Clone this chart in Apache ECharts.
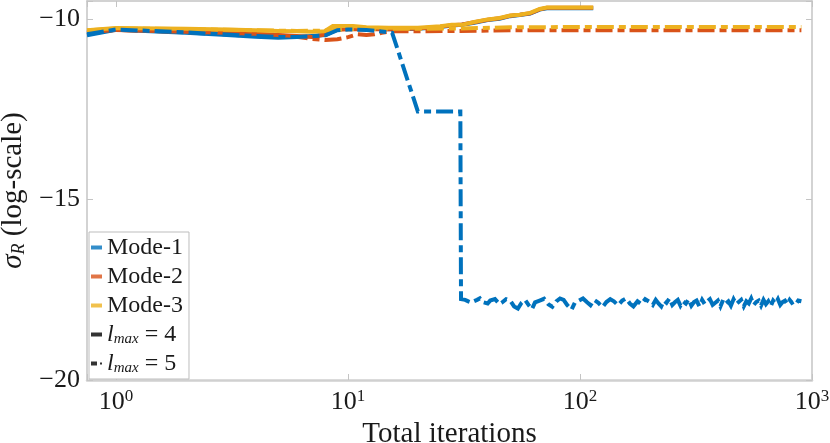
<!DOCTYPE html>
<html>
<head>
<meta charset="utf-8">
<script src="https://cdn.jsdelivr.net/npm/echarts@6/dist/echarts.min.js"></script>
<style>
html,body{margin:0;padding:0;background:#fff;}
#chart{width:830px;height:443px;}
</style>
</head>
<body>
<div id="chart"></div>
<script>
// ---- data ----
const legendNames = ['Mode-1', 'Mode-2', 'Mode-3', 'lmax4', 'lmax5'];
const colors = ['#0072BD', '#D95319', '#EDB120'];

// l_max = 4 (solid)
const mode1L4X = [0.75,1,2,3,4,5,6,7,8,9,10,12,15,20,25,28,31,35,40,45,50,55,61,67,72,114];
const mode1L4Y = [-10.45,-10.30,-10.38,-10.44,-10.49,-10.52,-10.50,-10.47,-10.44,-10.28,-10.27,-10.27,-10.28,-10.27,-10.22,-10.18,-10.16,-10.10,-10.03,-9.99,-9.92,-9.89,-9.85,-9.74,-9.70,-9.70];
const mode2L4X = [0.75,1,2,3,4,5,6,7,8,9,10,12,15,20,25,28,31,35,40,45,50,55,61,67,72,114];
const mode2L4Y = [-10.37,-10.30,-10.35,-10.38,-10.41,-10.44,-10.47,-10.50,-10.42,-10.30,-10.28,-10.28,-10.28,-10.26,-10.21,-10.17,-10.15,-10.09,-10.02,-9.98,-9.91,-9.88,-9.84,-9.73,-9.69,-9.69];
const mode3L4X = [0.75,1,2,3,4,5,6,7,7.9,8.6,10.5,12,15,20,25,28,31,35,40,45,50,55,61,67,72,114];
const mode3L4Y = [-10.31,-10.25,-10.27,-10.29,-10.31,-10.33,-10.34,-10.35,-10.34,-10.19,-10.19,-10.23,-10.24,-10.24,-10.20,-10.16,-10.16,-10.08,-10.01,-9.97,-9.90,-9.88,-9.83,-9.72,-9.68,-9.68];

// l_max = 5 (dash-dot)
// Mode-1: plateau, two drops
const mode1L5HeadX = [0.75,1,2,3,4,5,6,7,8,9,10,12,15.5,20,30.5,30.7];
const mode1L5HeadY = [-10.42,-10.29,-10.37,-10.43,-10.47,-10.50,-10.50,-10.48,-10.45,-10.31,-10.29,-10.30,-10.38,-12.56,-12.56,-17.76];
// Mode-1: noisy floor, iterations 32 .. 191
const mode1L5MidX = [32,33,34,36,37,38,40,41,43,45,46,48,50,52,54,56,58,60,62,64,67,70,73,76,79,82,85,88,92,95,99,
  103,107,111,115,120,125,130,135,140,146,152,158,164,170,177,184,191];
const mode1L5MidY = [-17.78,-17.82,-17.85,-17.78,-17.74,-17.84,-17.88,-17.80,-17.76,-17.90,-17.86,-17.76,
  -17.80,-17.96,-18.02,-17.86,-17.78,-17.92,-18.04,-17.85,-17.80,-17.75,-17.90,-17.97,
  -17.82,-17.74,-17.78,-17.92,-18.05,-17.86,-17.80,-17.74,-17.84,-17.93,-17.78,-17.86,
  -17.98,-17.84,-17.76,-17.82,-17.93,-17.80,-17.74,-17.88,-17.96,-17.82,-17.90,-17.76];
// Mode-1: noisy floor, iterations 200 .. 900
const mode1L5TailX = [200,206,212,218,224,230,236,243,250,257,264,271,278,286,294,302,310,318,
  327,336,345,354,363,373,383,393,403,414,425,436,447,459,471,483,495,508,
  521,534,547,561,575,589,603,618,633,648,664,680,696,713,730,747,765,783,
  801,819,837,855,872,888,900];
const mode1L5TailY = [-17.84,-17.92,-17.78,-17.88,-17.96,-17.80,-17.86,-17.74,-17.92,-17.84,-17.78,-17.94,
  -17.82,-17.88,-17.76,-17.94,-17.84,-17.80,-17.96,-17.78,-17.90,-17.82,-17.76,-17.92,
  -17.86,-17.80,-17.96,-17.78,-17.88,-17.82,-17.94,-17.76,-17.90,-17.84,-17.78,-17.96,
  -17.82,-17.88,-17.74,-17.92,-17.84,-17.80,-17.94,-17.78,-17.90,-17.82,-17.96,-17.80,
  -17.88,-17.76,-17.92,-17.84,-17.80,-17.90,-17.78,-17.86,-17.82,-17.88,-17.80,-17.84,-17.82];
const mode2L5X = [0.75,1,2,4,6,7,8,9,10,11,12,13,14,16,20,30,50,100,200,400,900];
const mode2L5Y = [-10.38,-10.30,-10.36,-10.42,-10.49,-10.55,-10.58,-10.56,-10.50,-10.42,-10.44,-10.42,-10.38,-10.33,-10.34,-10.33,-10.31,-10.31,-10.31,-10.31,-10.31];
const mode3L5X = [0.75,1,2,4,6,8,10,15,20,30,50,100,900];
const mode3L5Y = [-10.32,-10.26,-10.28,-10.31,-10.33,-10.32,-10.28,-10.27,-10.27,-10.26,-10.23,-10.22,-10.22];

const xMin = 0.75, xMax = 1000;
const yMin = -20, yMax = -9.5, yInterval = 5;

// ---- chart ----
const zip = (xs, ys) => xs.map((x, i) => [x, ys[i]]);
const FONT = '"Liberation Serif", "DejaVu Serif", serif';
const TXT = '#1a1a1a';
const AXC = '#c4c4c4';
const dashDot = [17, 5, 7, 5];

function lineSeries(name, data, color, dashed, z) {
  return {
    name: name, type: 'line', data: data, showSymbol: false, symbol: 'none',
    xAxisIndex: 0, yAxisIndex: 0, z: z, silent: true,
    lineStyle: { color: color, width: 4, type: dashed ? dashDot : 'solid', cap: 'butt', join: 'miter' },
    itemStyle: { color: color }
  };
}

const mode1L5Data = zip(mode1L5HeadX, mode1L5HeadY)
  .concat(zip(mode1L5MidX, mode1L5MidY))
  .concat(zip(mode1L5TailX, mode1L5TailY));

// dummy legend carriers (scatter without data -> clean icons)
const legendColors = [colors[0], colors[1], colors[2], '#000', '#000'];
const legendIcons = ['rect', 'rect', 'rect', 'rect', 'path://M0,0H6V4H0Z M9,1H11V3H9Z'];

const series = [
  lineSeries('m1-l4', zip(mode1L4X, mode1L4Y), colors[0], false, 2),
  lineSeries('m2-l4', zip(mode2L4X, mode2L4Y), colors[1], false, 3),
  lineSeries('m3-l4', zip(mode3L4X, mode3L4Y), colors[2], false, 4),
  lineSeries('m1-l5', mode1L5Data, colors[0], true, 5),
  lineSeries('m2-l5', zip(mode2L5X, mode2L5Y), colors[1], true, 3),
  lineSeries('m3-l5', zip(mode3L5X, mode3L5Y), colors[2], true, 4)
].concat(legendNames.map((n, i) => ({
  name: n, type: 'scatter', data: [], symbol: legendIcons[i],
  itemStyle: { color: legendColors[i] }
})));

function xLabel(v) {
  const e = Math.round(Math.log10(v));
  if (Math.abs(v - Math.pow(10, e)) > 1e-6 * Math.pow(10, e)) return '';
  return '{b|10}{p|' + e + '}';
}
function yLabel(v) {
  if (Math.abs(v / yInterval - Math.round(v / yInterval)) > 1e-6) return '';
  return (v < 0 ? '\u2212' : '') + Math.abs(v);
}

const commonX = {
  type: 'log', logBase: 10, min: xMin, max: xMax,
  axisLine: { show: true, lineStyle: { color: AXC, width: 1.5 } },
  axisTick: { show: true, inside: true, length: 6, lineStyle: { color: AXC, width: 1 } },
  splitLine: { show: false }, minorTick: { show: false }, minorSplitLine: { show: false }
};
const commonY = {
  type: 'value', min: yMin, max: yMax, interval: yInterval,
  axisLine: { show: true, lineStyle: { color: AXC, width: 1.5 } },
  axisTick: { show: true, inside: true, length: 6, lineStyle: { color: AXC, width: 1 } },
  splitLine: { show: false }
};

const option = {
  animation: false,
  backgroundColor: '#fff',
  grid: { left: 87, right: 18, top: 1, bottom: 63, containLabel: false, outerBoundsMode: 'none' },
  xAxis: [
    Object.assign({}, commonX, {
      position: 'bottom',
      axisLine: { show: true, lineStyle: { color: '#d0d0d0', width: 2.5 } },
      name: 'Total iterations', nameLocation: 'middle', nameGap: 34,
      nameTextStyle: { fontFamily: FONT, fontSize: 29, color: TXT },
      axisLabel: {
        show: true, margin: 8, formatter: xLabel,
        rich: {
          b: { fontFamily: FONT, fontSize: 26, color: TXT, lineHeight: 28 },
          p: { fontFamily: FONT, fontSize: 17, color: TXT, verticalAlign: 'top', lineHeight: 14 }
        }
      }
    }),
    Object.assign({}, commonX, { position: 'top', axisLabel: { show: false } })
  ],
  yAxis: [
    Object.assign({}, commonY, {
      position: 'left',
      name: '{g|\u03C3}{s|R}{t| (log-scale)}', nameLocation: 'middle', nameGap: 52, nameRotate: 90,
      nameTextStyle: {
        rich: {
          g: { fontFamily: FONT, fontSize: 29, fontStyle: 'italic', color: TXT, lineHeight: 30 },
          s: { fontFamily: FONT, fontSize: 18, fontStyle: 'italic', color: TXT, verticalAlign: 'bottom', lineHeight: 14 },
          t: { fontFamily: FONT, fontSize: 29, color: TXT, lineHeight: 30 }
        }
      },
      axisLabel: { show: true, margin: 7, formatter: yLabel, fontFamily: FONT, fontSize: 26, color: TXT }
    }),
    Object.assign({}, commonY, { position: 'right', axisLabel: { show: false } })
  ],
  legend: {
    show: true, orient: 'vertical', left: 89, top: 232,
    data: legendNames.map((n, i) => ({ name: n, icon: legendIcons[i], itemStyle: { color: legendColors[i] } })),
    itemWidth: 11, itemHeight: 4, itemGap: 4,
    backgroundColor: '#fff', borderColor: '#bdbdbd', borderWidth: 1,
    padding: [3, 6, 3, 2],
    selectedMode: false,
    formatter: function (n) {
      if (n === 'lmax4') return '{i|l}{s|max}{n| = 4}';
      if (n === 'lmax5') return '{i|l}{s|max}{n| = 5}';
      return '{n|' + n + '}';
    },
    textStyle: {
      fontFamily: FONT, fontSize: 24, color: TXT, lineHeight: 25,
      rich: {
        n: { fontFamily: FONT, fontSize: 24, color: TXT, lineHeight: 25 },
        i: { fontFamily: FONT, fontSize: 24, fontStyle: 'italic', color: TXT, lineHeight: 25 },
        s: { fontFamily: FONT, fontSize: 15, fontStyle: 'italic', color: TXT, verticalAlign: 'bottom', lineHeight: 11 }
      }
    }
  },
  series: series
};

const chart = echarts.init(document.getElementById('chart'), null, { renderer: 'canvas' });
chart.setOption(option);
</script>
</body>
</html>
